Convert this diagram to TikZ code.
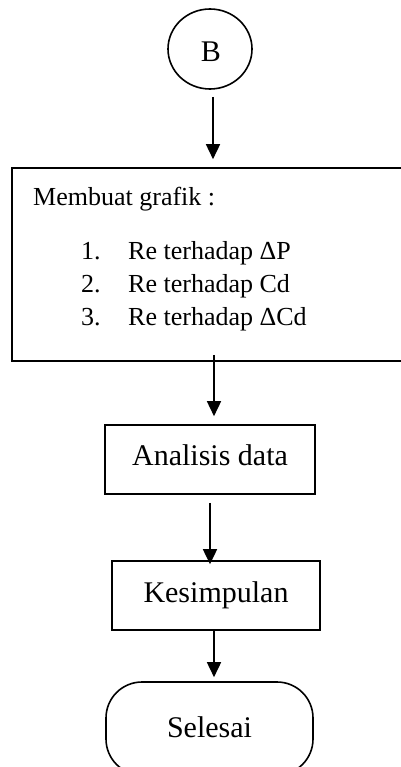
\documentclass[tikz,border=0pt]{standalone}
\usepackage{fontspec}
\setmainfont{Liberation Serif}
\usetikzlibrary{arrows.meta,shapes.geometric}
\begin{document}
\begin{tikzpicture}[x=1pt,y=-1pt,
  box/.style={draw,line width=1.6pt,rectangle,inner sep=0pt},
  arr/.style={line width=1.6pt,-{Triangle[width=14pt,length=15pt]}},
  bigfont/.style={font=\fontsize{30}{36}\selectfont},
  smallfont/.style={font=\fontsize{26}{33}\selectfont},
  txt/.style={inner sep=0pt,anchor=base west}]
\useasboundingbox (0,0) rectangle (400,767);
% start connector
\node[draw,ellipse,line width=1.6pt,minimum width=84pt,minimum height=80pt,inner sep=0pt,
      bigfont,text height=26pt,text depth=0pt] (B) at (210,49) {\hspace{2pt}B};
% big box
\node[box,minimum width=400pt,minimum height=193pt] (G) at (212,264.5) {};
\node[txt,smallfont] (t0) at (33,205) {Membuat grafik :};
\node[txt,smallfont] (n1) at (81,259) {1.};
\node[txt,smallfont] (l1) at (128,259) {Re terhadap ΔP};
\node[txt,smallfont] (n2) at (81,292) {2.};
\node[txt,smallfont] (l2) at (128,292) {Re terhadap Cd};
\node[txt,smallfont] (n3) at (81,325) {3.};
\node[txt,smallfont] (l3) at (128,325) {Re terhadap ΔCd};
% analysis
\node[box,minimum width=210pt,minimum height=69pt,bigfont,text height=20pt,text depth=9pt] (A) at (210,459.5) {Analisis data\hspace{10pt}};
% conclusion
\node[box,minimum width=208pt,minimum height=69pt,bigfont,text height=22pt,text depth=9pt] (K) at (216,595.5) {Kesimpulan\hspace{16pt}};
% end terminal
\node[box,rounded corners=36pt,minimum width=207pt,minimum height=93pt,bigfont,text height=17pt,text depth=0pt] (S) at (209.5,728.5) {Selesai};
% connectors
\draw[arr,shorten <=7pt,shorten >=8pt] ([xshift=3pt]B.south) -- ([xshift=3pt]B.south |- G.north);
\draw[arr,shorten >=8pt] ([xshift=2pt,yshift=7pt]G.south) -- ([xshift=2pt]G.south |- A.north);
\draw[arr,shorten <=8pt,shorten >=-4pt] (A.south) -- (A.south |- K.north);
\draw[arr,shorten >=4pt] ([xshift=-2pt]K.south) -- ([xshift=-2pt]K.south |- S.north);
\end{tikzpicture}
\end{document}
